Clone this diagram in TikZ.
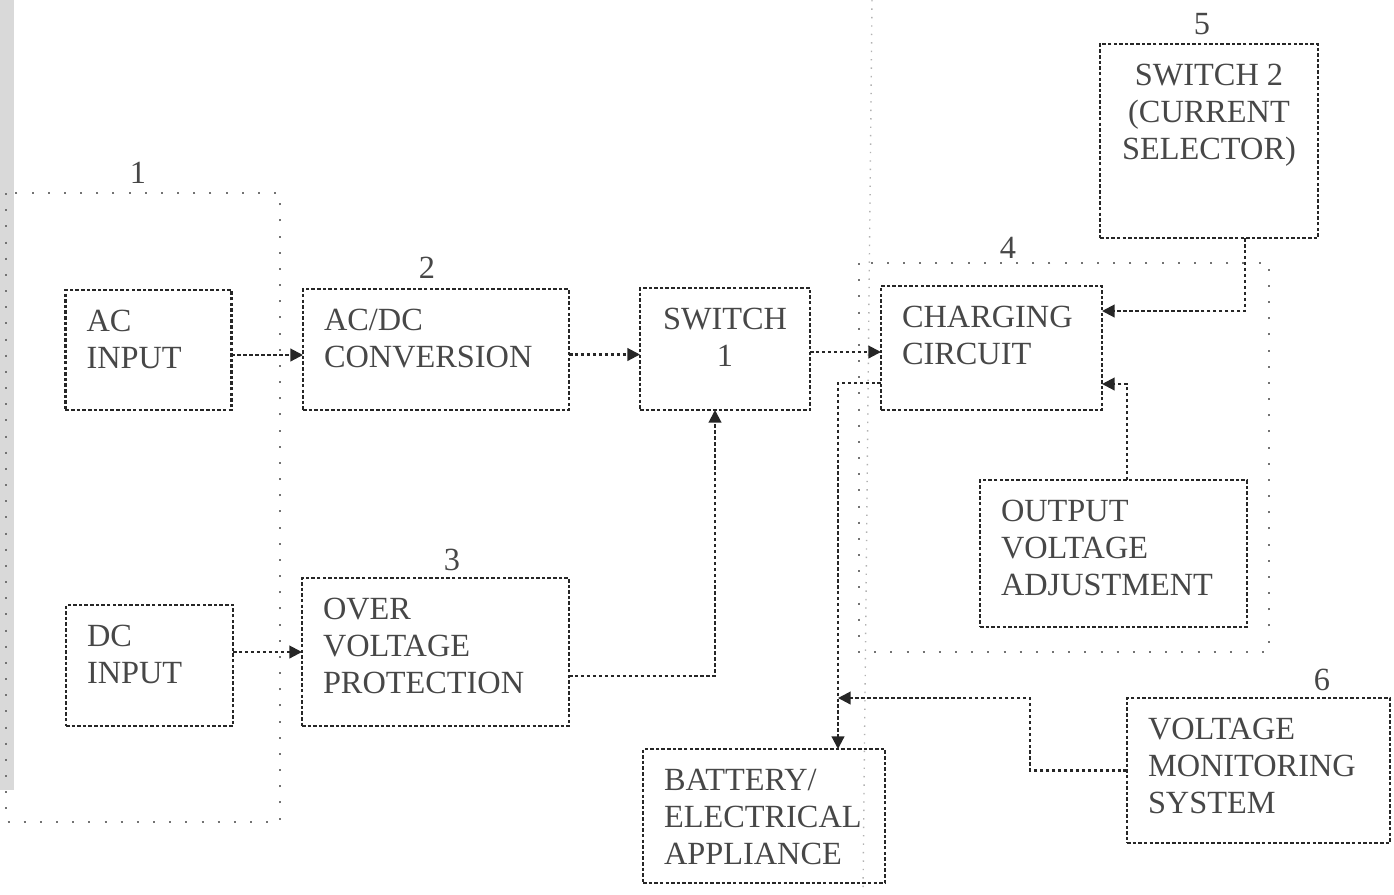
\documentclass[tikz,border=0pt]{standalone}
\usepackage{fontspec}
\setmainfont{Liberation Serif}
\usetikzlibrary{arrows.meta,positioning,calc}

% text block pinned to the top of a box
\newcommand{\boxtext}[4][\raggedright]{\parbox[c][#3][t]{#2}{#1#4}}

\begin{document}
\begin{tikzpicture}[
    blk/.style={draw=black!85, dash pattern=on 1pt off 0.6pt, line width=0.65pt, inner xsep=0.21cm,
        inner ysep=0.2cm, outer sep=0pt, text=black!72, font=\fontsize{9.2}{10.5}\selectfont},
    grp/.style={draw=black!55, loosely dotted, line width=0.6pt},
    num/.style={text=black!72, font=\fontsize{9.2}{10.5}\selectfont},
    arr/.style={black!85, dash pattern=on 1pt off 0.7pt, line width=0.6pt, -{Triangle[length=3.6pt,width=3.6pt]}}
]
    \useasboundingbox (0,0) rectangle (13.94,-8.94);

    % Scan edge and faint guide line
    \fill[black!15] (0,0) rectangle (0.14,-7.9);
    \draw[black!30, dotted, line width=0.4pt] (8.72,0) -- (8.63,-8.94);

    % Group outlines
    \draw[grp] (0.06,-1.93) rectangle (2.80,-8.22);
    \draw[grp] (8.59,-2.63) rectangle (12.69,-6.52);

    % Blocks
    \node[blk] (acin) at (1.485,-3.50) {\boxtext{1.24cm}{0.80cm}{AC\\INPUT}};
    \node[blk] (dcin) at (1.495,-6.655) {\boxtext{1.25cm}{0.81cm}{DC\\INPUT}};
    \node[blk] (acdc) at (4.36,-3.495) {\boxtext{2.24cm}{0.81cm}{AC/DC\\CONVERSION}};
    \node[blk] (ovp) at (4.355,-6.52) {\boxtext{2.25cm}{1.08cm}{OVER\\VOLTAGE\\PROTECTION}};
    \node[blk] (sw1) at (7.25,-3.49) {\boxtext[\centering]{1.28cm}{0.82cm}{SWITCH\\1}};
    \node[blk] (chg) at (9.915,-3.48) {\boxtext{1.79cm}{0.84cm}{CHARGING\\CIRCUIT}};
    \node[blk] (ova) at (11.135,-5.535) {\boxtext{2.25cm}{1.07cm}{OUTPUT\\VOLTAGE\\ADJUSTMENT}};
    \node[blk] (sw2) at (12.09,-1.41) {\boxtext[\centering]{1.76cm}{1.54cm}{SWITCH 2\\(CURRENT\\SELECTOR)}};
    \node[blk] (bat) at (7.64,-8.16) {\boxtext{2.00cm}{0.94cm}{BATTERY/\\ELECTRICAL\\APPLIANCE}};
    \node[blk] (vms) at (12.585,-7.705) {\boxtext{2.21cm}{1.05cm}{VOLTAGE\\MONITORING\\SYSTEM}};

    % Reference numerals
    \node[num] (n1) at (1.38,-1.73) {1};
    \node[num] (n2) at (4.27,-2.68) {2};
    \node[num] (n3) at (4.52,-5.60) {3};
    \node[num] (n4) at (10.08,-2.48) {4};
    \node[num] (n5) at (12.02,-0.24) {5};
    \node[num] (n6) at (13.22,-6.80) {6};

    % Connections
    \draw[arr] ([yshift=-0.05cm]acin.east) -- ([yshift=-0.05cm]acin.east -| acdc.west);
    \draw[arr] (dcin.east |- ovp.west) -- (ovp.west);
    \draw[arr] ([yshift=-0.05cm]acdc.east) -- ([yshift=-0.05cm]acdc.east -| sw1.west);
    \draw[arr] ([yshift=-0.24cm]ovp.east) -| ([xshift=-0.10cm]sw1.south);
    \draw[arr] ([yshift=-0.03cm]sw1.east) -- ([yshift=-0.03cm]sw1.east -| chg.west);
    \draw[arr] ([yshift=-0.35cm]chg.west) -| ([xshift=0.74cm]bat.north);
    \draw[arr] ([xshift=0.36cm]sw2.south) |- ([yshift=0.37cm]chg.east);
    \draw[arr] ([xshift=0.135cm]ova.north) |- ([yshift=-0.36cm]chg.east);
    \coordinate (tap) at ([xshift=0.74cm]bat.north |- 0,-6.98);
    \draw[arr] (vms.west) -- ++(-0.97,0) |- (tap);
\end{tikzpicture}
\end{document}
